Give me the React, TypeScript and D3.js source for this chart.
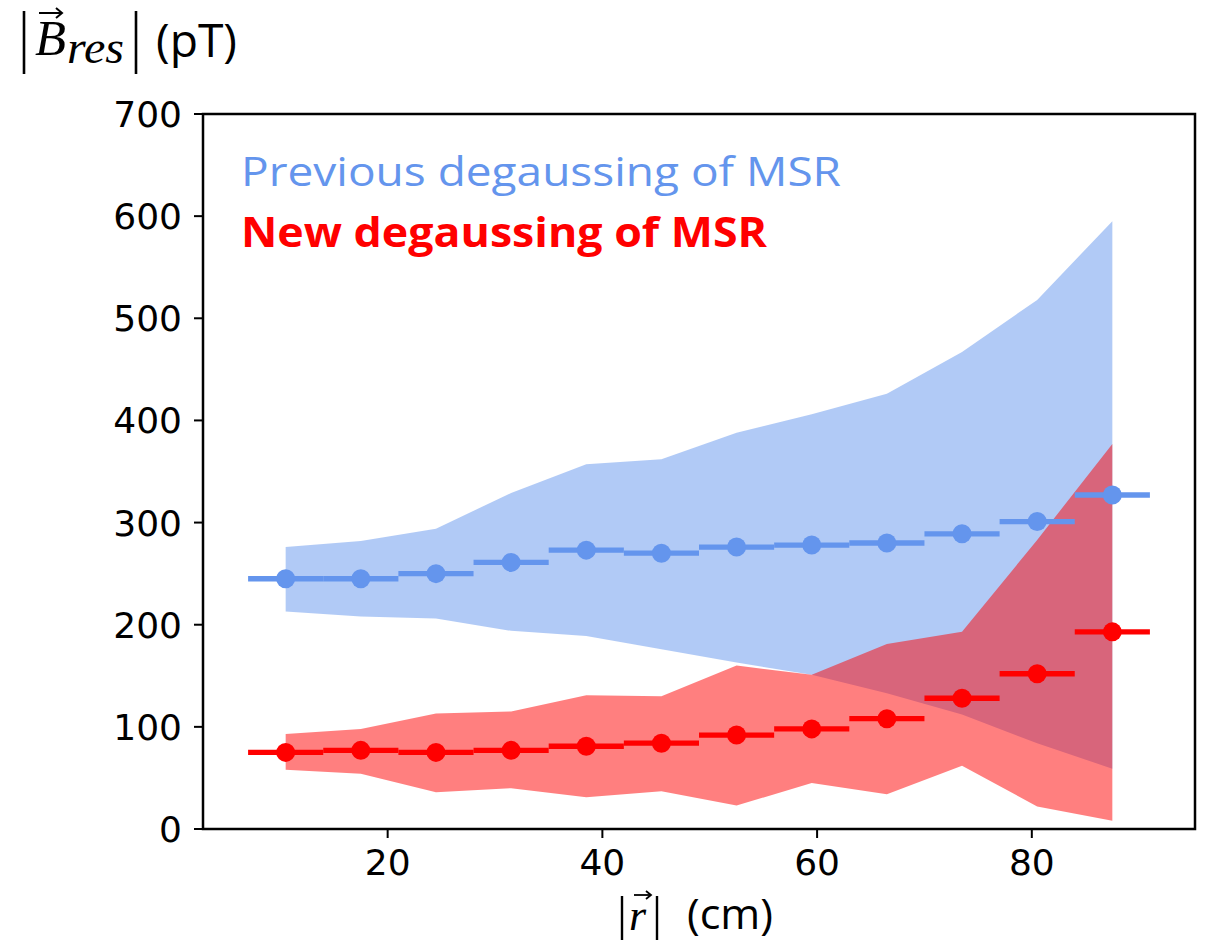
import React from "react";
import * as d3 from "d3";

// bin centres (cm), bins are 7 cm wide
const radius = [10.5, 17.5, 24.5, 31.5, 38.5, 45.5, 52.5, 59.5, 66.5, 73.5, 80.5, 87.5];
const binHalf = 3.5;

// previous degaussing
const prevMean = [245, 245, 250, 261, 273, 270, 276, 278, 280, 289, 301, 327];
const prevUpper = [276, 282, 294, 329, 357, 362, 388, 406, 426, 467, 518, 595];
const prevLower = [213, 208, 206, 194, 189, 176, 163, 151, 133, 112, 84, 59];

// new degaussing
const newMean = [75, 77, 75, 77, 81, 84, 92, 98, 108, 128, 152, 193];
const newUpper = [93, 98, 113, 115, 131, 130, 160, 151, 181, 193, 283, 377];
const newLower = [58, 54, 36, 40, 31, 37, 23, 45, 34, 62, 22, 8];

const xTicks = [20, 40, 60, 80];
const yTicks = [0, 100, 200, 300, 400, 500, 600, 700];

const W = 1207, H = 942;
const margin = { left: 203, right: 12, top: 114, bottom: 113 };

const BLUE = "#6495ED";
const RED = "#FF0000";

export default function App() {
  const x = d3.scaleLinear().domain([2.8, 95.2]).range([margin.left, W - margin.right]);
  const y = d3.scaleLinear().domain([0, 700]).range([H - margin.bottom, margin.top]);

  const band = (upper: number[], lower: number[]) =>
    d3.area<number>()
      .x((d, i) => x(d))
      .y0((d, i) => y(lower[i]))
      .y1((d, i) => y(upper[i]))(radius) || "";

  const series = (mean: number[], color: string) => (
    <g>
      {radius.map((r, i) => (
        <line key={"e" + i} x1={x(r - binHalf)} x2={x(r + binHalf)} y1={y(mean[i])} y2={y(mean[i])}
          stroke={color} strokeWidth={5.3} />
      ))}
      {radius.map((r, i) => (
        <circle key={"c" + i} cx={x(r)} cy={y(mean[i])} r={9.5} fill={color} />
      ))}
    </g>
  );

  const tickFont = "'DejaVu Sans', sans-serif";
  const x0 = margin.left, x1 = W - margin.right, y0 = H - margin.bottom, y1 = margin.top;

  return (
    <svg width={W} height={H} style={{ position: "absolute", left: 0, top: 0, background: "#fff" }}>
      <rect width={W} height={H} fill="#fff" />
      <path d={band(prevUpper, prevLower)} fill={BLUE} fillOpacity={0.5} />
      <path d={band(newUpper, newLower)} fill={RED} fillOpacity={0.5} />
      {series(prevMean, BLUE)}
      {series(newMean, RED)}

      {/* frame */}
      <rect x={x0} y={y1} width={x1 - x0} height={y0 - y1} fill="none" stroke="#000" strokeWidth={2.5} />

      {/* y ticks */}
      {yTicks.map(t => (
        <g key={"y" + t}>
          <line x1={x0 - 9} x2={x0} y1={y(t)} y2={y(t)} stroke="#000" strokeWidth={2} />
          <text x={x0 - 21} y={y(t)} dy="0.36em" textAnchor="end" fontFamily={tickFont} fontSize={36}>{t}</text>
        </g>
      ))}
      {/* x ticks */}
      {xTicks.map(t => (
        <g key={"x" + t}>
          <line x1={x(t)} x2={x(t)} y1={y0} y2={y0 + 9} stroke="#000" strokeWidth={2} />
          <text x={x(t)} y={875} textAnchor="middle" fontFamily={tickFont} fontSize={36}>{t}</text>
        </g>
      ))}

      {/* legend text */}
      <text x={241} y={186} fontFamily="'Open Sans', sans-serif" fontSize={41} fill={BLUE}
        textLength={600} lengthAdjust="spacingAndGlyphs">Previous degaussing of MSR</text>
      <text x={241} y={247} fontFamily="'Open Sans', sans-serif" fontWeight="bold" fontSize={41} fill={RED}
        textLength={526} lengthAdjust="spacingAndGlyphs">New degaussing of MSR</text>

      {/* y axis label */}
      <g>
        <line x1={24} x2={24} y1={11} y2={74} stroke="#000" strokeWidth={2.6} />
        <text x={35} y={55} fontFamily="'Liberation Serif', serif" fontStyle="italic" fontSize={50}
          textLength={31} lengthAdjust="spacingAndGlyphs">B</text>
        <line x1={39} x2={61} y1={13} y2={13} stroke="#000" strokeWidth={2} />
        <path d="M56,8 L62,13 L56,18" fill="none" stroke="#000" strokeWidth={2} />
        <text x={67} y={63} fontFamily="'Liberation Serif', serif" fontStyle="italic" fontSize={47}
          textLength={57} lengthAdjust="spacingAndGlyphs">res</text>
        <line x1={136} x2={136} y1={11} y2={74} stroke="#000" strokeWidth={2.6} />
        <text x={156} y={57} fontFamily="'Open Sans', sans-serif" fontSize={45}
          textLength={81} lengthAdjust="spacingAndGlyphs">(pT)</text>
      </g>

      {/* x axis label */}
      <g>
        <line x1={622} x2={622} y1={896} y2={940} stroke="#000" strokeWidth={2.4} />
        <text x={629} y={930} fontFamily="'Liberation Serif', serif" fontStyle="italic" fontSize={44}>r</text>
        <line x1={634} x2={650} y1={895} y2={895} stroke="#000" strokeWidth={1.8} />
        <path d="M646,891 L651,895 L646,899" fill="none" stroke="#000" strokeWidth={1.8} />
        <line x1={657} x2={657} y1={896} y2={940} stroke="#000" strokeWidth={2.4} />
        <text x={687} y={929} fontFamily="'Open Sans', sans-serif" fontSize={42}
          textLength={86} lengthAdjust="spacingAndGlyphs">(cm)</text>
      </g>
    </svg>
  );
}
